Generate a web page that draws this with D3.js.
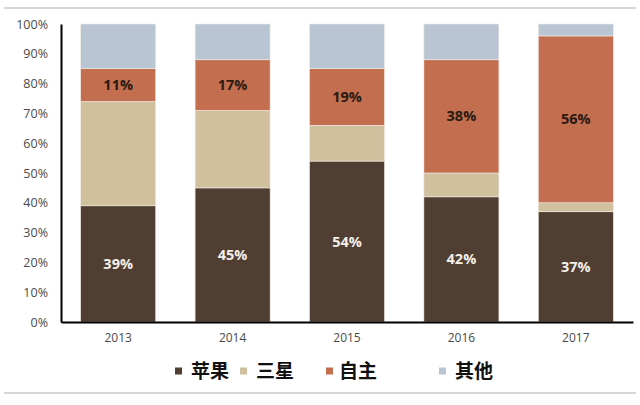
<!DOCTYPE html>
<meta charset="utf-8">
<script src="https://d3js.org/d3.v7.min.js"></script>
<style>
  body { margin: 0; background: #fff; }
  text { font-family: "Open Sans", "Noto Sans CJK SC", sans-serif; }
</style>
<body>
<div id="my_dataviz"></div>
<script>
  // data (percent share)
  var years = ["2013", "2014", "2015", "2016", "2017"];
  var keys = ["苹果", "三星", "自主", "其他"];
  var apple = [39, 45, 54, 42, 37];
  var samsung = [35, 26, 12, 8, 3];
  var local = [11, 17, 19, 38, 56];
  var others = [15, 12, 15, 12, 4];
  var yTicks = [0, 10, 20, 30, 40, 50, 60, 70, 80, 90, 100];
  var colors = ["#4f3e31", "#d0c09d", "#c46e50", "#bac5d4"];

  var data = years.map(function (y, i) {
    return { year: y, "苹果": apple[i], "三星": samsung[i], "自主": local[i], "其他": others[i] };
  });

  var W = 640, H = 405;
  var margin = { top: 24, right: 7, bottom: 83, left: 61 },
    width = W - margin.left - margin.right,
    height = H - margin.top - margin.bottom;

  var root = d3.select("#my_dataviz").append("svg")
    .attr("width", W).attr("height", H);

  // thin grey frame lines top and bottom
  root.append("line").attr("x1", 4).attr("x2", 636).attr("y1", 8).attr("y2", 8)
    .attr("stroke", "#d6d6d6").attr("stroke-width", 2);
  root.append("line").attr("x1", 4).attr("x2", 636).attr("y1", 393).attr("y2", 393)
    .attr("stroke", "#d6d6d6").attr("stroke-width", 2);

  var svg = root.append("g")
    .attr("transform", "translate(" + margin.left + "," + margin.top + ")");

  var x = d3.scaleBand().domain(years).range([0, width]).paddingInner(0.344).paddingOuter(0.172);
  var y = d3.scaleLinear().domain([0, 100]).range([height, 0]);
  var color = d3.scaleOrdinal().domain(keys).range(colors);

  var stacked = d3.stack().keys(keys)(data);

  var layers = svg.append("g").selectAll("g")
    .data(stacked).enter().append("g")
    .attr("fill", function (d) { return color(d.key); });

  layers.selectAll("rect")
    .data(function (d) { return d; })
    .enter().append("rect")
    .attr("x", function (d) { return x(d.data.year); })
    .attr("y", function (d) { return y(d[1]); })
    .attr("width", x.bandwidth())
    .attr("height", function (d) { return y(d[0]) - y(d[1]); })
    .attr("stroke", "#f3ece4")
    .attr("stroke-width", 0.6);

  // value labels for apple and local brands
  [["苹果", "#f4efe9"], ["自主", "#2a1a12"]].forEach(function (p) {
    var layer = stacked[keys.indexOf(p[0])];
    svg.append("g").selectAll("text")
      .data(layer).enter().append("text")
      .attr("x", function (d) { return x(d.data.year) + x.bandwidth() / 2; })
      .attr("y", function (d) { return y((d[0] + d[1]) / 2); })
      .attr("dy", "0.35em")
      .attr("text-anchor", "middle")
      .attr("font-size", 14.5)
      .attr("font-weight", "bold")
      .attr("fill", p[1])
      .text(function (d) { return d.data[p[0]] + "%"; });
  });

  // axes
  var yAxis = svg.append("g")
    .call(d3.axisLeft(y).tickValues(yTicks).tickFormat(function (d) { return d + "%"; }).tickSize(0).tickPadding(13));
  yAxis.select(".domain").attr("stroke", "#000").attr("stroke-width", 2);
  yAxis.selectAll("text").attr("font-size", 12.5).attr("fill", "#4a4a4a");

  var xAxis = svg.append("g")
    .attr("transform", "translate(0," + height + ")")
    .call(d3.axisBottom(x).tickSize(0).tickPadding(11));
  xAxis.select(".domain").attr("stroke", "#000").attr("stroke-width", 2);
  xAxis.selectAll("text").attr("font-size", 12).attr("fill", "#4a4a4a");

  // legend
  var legendX = [175, 240, 326, 439];
  var legend = root.append("g").selectAll("g")
    .data(keys).enter().append("g")
    .attr("transform", function (d, i) { return "translate(" + legendX[i] + ",371)"; });
  legend.append("rect")
    .attr("x", 0).attr("y", -3.5).attr("width", 7).attr("height", 7)
    .attr("fill", function (d) { return color(d); });
  legend.append("text")
    .attr("x", function (d, i) { return i == 2 ? 13 : 16; })
    .attr("dy", "0.36em")
    .attr("font-size", 19)
    .attr("font-weight", "bold")
    .attr("fill", "#111")
    .style("font-family", "'Noto Sans CJK SC', sans-serif")
    .text(function (d) { return d; });
</script>
</body>
